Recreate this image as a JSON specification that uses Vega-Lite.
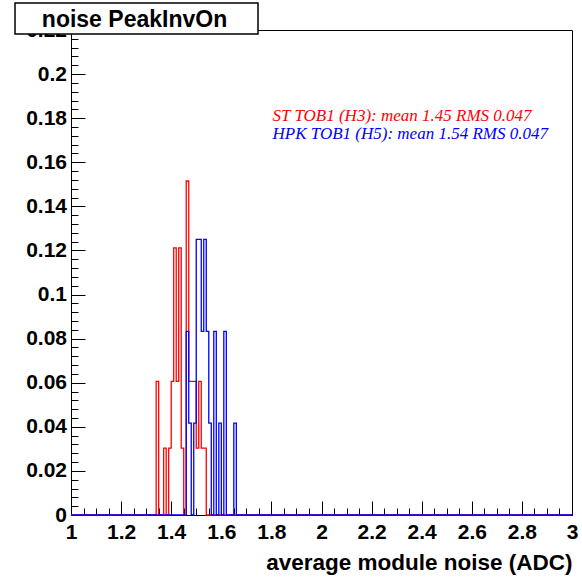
{
  "$schema": "https://vega.github.io/schema/vega-lite/v6.json",
  "width": 501,
  "height": 485,
  "autosize": "none",
  "padding": {"left": 71, "top": 30, "right": 10, "bottom": 63},
  "background": "white",
  "config": {
    "view": {"stroke": "black", "strokeWidth": 1},
    "axis": {
      "domainColor": "black",
      "tickColor": "black",
      "labelColor": "black",
      "titleColor": "black",
      "labelFont": "Liberation Sans",
      "labelFontWeight": "bold",
      "labelFontSize": 21,
      "labelFlush": false,
      "labelOverlap": false,
      "titleFont": "Liberation Sans",
      "titleFontWeight": "bold",
      "titleFontSize": 22.5,
      "grid": false
    }
  },
  "datasets": {
    "h3": [
      {"x": 1.0, "y": 0},
      {"x": 1.34, "y": 0.060606},
      {"x": 1.35, "y": 0},
      {"x": 1.37, "y": 0.030303},
      {"x": 1.38, "y": 0},
      {"x": 1.39, "y": 0.030303},
      {"x": 1.40, "y": 0.060606},
      {"x": 1.41, "y": 0.121212},
      {"x": 1.42, "y": 0.060606},
      {"x": 1.43, "y": 0.121212},
      {"x": 1.44, "y": 0.030303},
      {"x": 1.45, "y": 0},
      {"x": 1.46, "y": 0.151515},
      {"x": 1.47, "y": 0.060606},
      {"x": 1.48, "y": 0.060606},
      {"x": 1.49, "y": 0.060606},
      {"x": 1.50, "y": 0.030303},
      {"x": 1.51, "y": 0.060606},
      {"x": 1.52, "y": 0.030303},
      {"x": 1.53, "y": 0.030303},
      {"x": 1.54, "y": 0},
      {"x": 3.0, "y": 0}
    ],
    "h5": [
      {"x": 1.0, "y": 0},
      {"x": 1.46, "y": 0.083333},
      {"x": 1.47, "y": 0.041667},
      {"x": 1.48, "y": 0},
      {"x": 1.49, "y": 0.041667},
      {"x": 1.50, "y": 0.125},
      {"x": 1.51, "y": 0.125},
      {"x": 1.52, "y": 0.083333},
      {"x": 1.53, "y": 0.125},
      {"x": 1.54, "y": 0.083333},
      {"x": 1.55, "y": 0.041667},
      {"x": 1.56, "y": 0},
      {"x": 1.57, "y": 0.083333},
      {"x": 1.58, "y": 0},
      {"x": 1.59, "y": 0.041667},
      {"x": 1.60, "y": 0},
      {"x": 1.61, "y": 0.083333},
      {"x": 1.62, "y": 0},
      {"x": 1.65, "y": 0.041667},
      {"x": 1.66, "y": 0},
      {"x": 3.0, "y": 0}
    ],
    "one": [{}]
  },
  "layer": [
    {
      "data": {"name": "h3"},
      "mark": {"type": "line", "interpolate": "step-after", "color": "#ff0000", "strokeWidth": 1.3},
      "encoding": {
        "x": {
          "field": "x", "type": "quantitative",
          "scale": {"domain": [1, 3], "nice": false, "zero": false},
          "axis": {
            "orient": "bottom",
            "values": [1, 1.2, 1.4, 1.6, 1.8, 2, 2.2, 2.4, 2.6, 2.8, 3],
            "format": "~g",
            "tickSize": -14,
            "labelPadding": 20,
            "labelBaseline": "top",
            "title": "average module noise (ADC)",
            "titleAnchor": "end",
            "titleAlign": "right",
            "titleBaseline": "alphabetic",
            "titleY": 54
          }
        },
        "y": {
          "field": "y", "type": "quantitative",
          "scale": {"domain": [0, 0.22], "nice": false},
          "axis": {
            "orient": "left",
            "values": [0, 0.02, 0.04, 0.06, 0.08, 0.1, 0.12, 0.14, 0.16, 0.18, 0.2, 0.22],
            "format": "~g",
            "tickSize": -14,
            "labelPadding": 18.5,
            "title": null
          }
        }
      }
    },
    {
      "data": {"name": "h5"},
      "mark": {"type": "line", "interpolate": "step-after", "color": "#0000ff", "strokeWidth": 1.3},
      "encoding": {
        "x": {
          "field": "x", "type": "quantitative",
          "scale": {"domain": [1, 3], "nice": false, "zero": false},
          "axis": {
            "orient": "bottom",
            "values": [1.05, 1.1, 1.15, 1.25, 1.3, 1.35, 1.45, 1.5, 1.55, 1.65, 1.7, 1.75, 1.85, 1.9, 1.95, 2.05, 2.1, 2.15, 2.25, 2.3, 2.35, 2.45, 2.5, 2.55, 2.65, 2.7, 2.75, 2.85, 2.9, 2.95],
            "labels": false,
            "domain": false,
            "tickSize": -7,
            "title": null
          }
        },
        "y": {
          "field": "y", "type": "quantitative",
          "scale": {"domain": [0, 0.22], "nice": false},
          "axis": {
            "orient": "left",
            "values": [0.004, 0.008, 0.012, 0.016, 0.024, 0.028, 0.032, 0.036, 0.044, 0.048, 0.052, 0.056, 0.064, 0.068, 0.072, 0.076, 0.084, 0.088, 0.092, 0.096, 0.104, 0.108, 0.112, 0.116, 0.124, 0.128, 0.132, 0.136, 0.144, 0.148, 0.152, 0.156, 0.164, 0.168, 0.172, 0.176, 0.184, 0.188, 0.192, 0.196, 0.204, 0.208, 0.212, 0.216],
            "labels": false,
            "domain": false,
            "tickSize": -7,
            "title": null
          }
        }
      }
    },
    {
      "data": {"name": "one"},
      "mark": {"type": "text", "text": "ST TOB1 (H3): mean 1.45 RMS 0.047", "font": "Liberation Serif", "fontStyle": "italic", "fontSize": 17, "color": "#ff0000", "align": "left", "baseline": "alphabetic"},
      "encoding": {
        "x": {"datum": 1.8044, "type": "quantitative", "scale": {"domain": [1, 3], "nice": false, "zero": false}, "axis": null},
        "y": {"datum": 0.17872, "type": "quantitative", "scale": {"domain": [0, 0.22], "nice": false}, "axis": null}
      }
    },
    {
      "data": {"name": "one"},
      "mark": {"type": "text", "text": "HPK TOB1 (H5): mean 1.54 RMS 0.047", "font": "Liberation Serif", "fontStyle": "italic", "fontSize": 17, "color": "#0000ff", "align": "left", "baseline": "alphabetic"},
      "encoding": {
        "x": {"datum": 1.8044, "type": "quantitative", "scale": {"domain": [1, 3], "nice": false, "zero": false}, "axis": null},
        "y": {"datum": 0.17056, "type": "quantitative", "scale": {"domain": [0, 0.22], "nice": false}, "axis": null}
      }
    },
    {
      "data": {"name": "one"},
      "mark": {"type": "rect", "fill": "white", "stroke": "black", "strokeWidth": 1.5},
      "encoding": {
        "x": {"datum": 0.7765, "type": "quantitative", "scale": {"domain": [1, 3], "nice": false, "zero": false}, "axis": null},
        "x2": {"datum": 1.7465},
        "y": {"datum": 0.23225, "type": "quantitative", "scale": {"domain": [0, 0.22], "nice": false}, "axis": null},
        "y2": {"datum": 0.21819}
      }
    },
    {
      "data": {"name": "one"},
      "mark": {"type": "text", "text": "noise PeakInvOn", "font": "Liberation Sans", "fontWeight": "bold", "fontSize": 23, "color": "black", "align": "center", "baseline": "alphabetic"},
      "encoding": {
        "x": {"datum": 1.2535, "type": "quantitative", "scale": {"domain": [1, 3], "nice": false, "zero": false}, "axis": null},
        "y": {"datum": 0.2214, "type": "quantitative", "scale": {"domain": [0, 0.22], "nice": false}, "axis": null}
      }
    }
  ],
  "resolve": {"axis": {"x": "independent", "y": "independent"}}
}
